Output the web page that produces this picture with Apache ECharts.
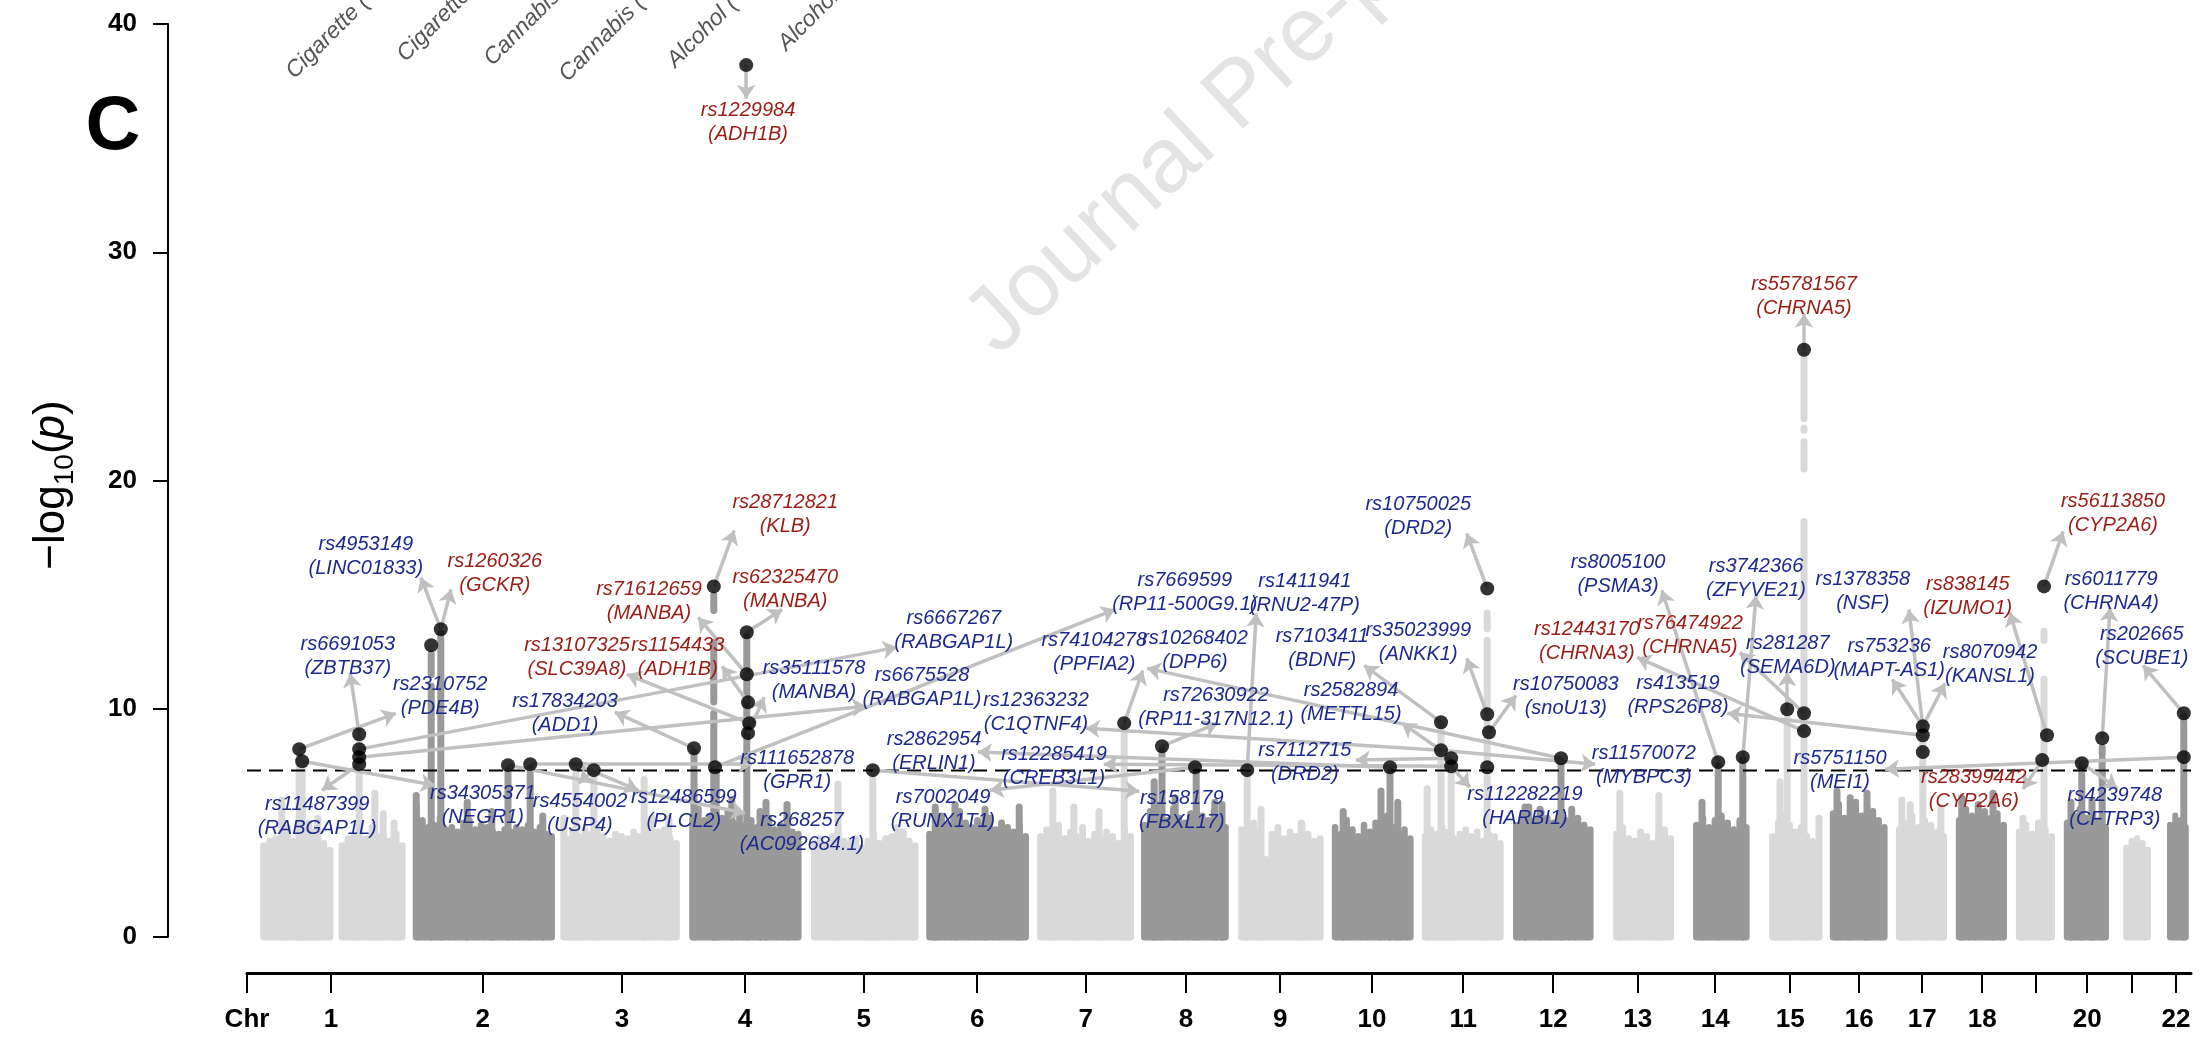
<!DOCTYPE html>
<html>
<head>
<meta charset="utf-8">
<script src="https://cdn.jsdelivr.net/npm/echarts@6/dist/echarts.min.js"></script>
<style>
  html, body { margin: 0; background: #fff; }
  #chart { width: 2200px; height: 1038px; }
</style>
</head>
<body>
<div id="chart"></div>
<script>
// Manhattan plot, panel C. x is a cumulative genome position (roughly Mb),
// y is -log10(p). Background mass per chromosome is a binned envelope,
// lead SNPs are black dots with grey leader arrows to their labels.

const chrNames = ['Chr', '1', '2', '3', '4', '5', '6', '7', '8', '9', '10', '11',
  '12', '13', '14', '15', '16', '17', '18', '19', '20', '21', '22']
const chrTicks = [0, 140, 393, 625, 830, 1028, 1217, 1398, 1565, 1722, 1875, 2027,
  2177, 2318, 2447, 2572, 2687, 2792, 2892, 2982, 3067, 3142, 3215]
const unlabeledChr = ['19', '21']

const chrSpan = [[22, 263], [277, 512], [527, 720], [737, 923], [940, 1118], [1132, 1302],
  [1317, 1477], [1490, 1635], [1652, 1793], [1808, 1943], [1958, 2093], [2110, 2243],
  [2277, 2377], [2410, 2503], [2537, 2623], [2638, 2733], [2748, 2832], [2848, 2932],
  [2948, 3012], [3028, 3102], [3127, 3172], [3200, 3235]]

// envelope of the dense background points, evenly binned along each chromosome (0 = no SNPs)
const massTop = [
  [4.0, 4.2, 4.3, 4.4, 4.8, 4.2, 4.5, 4.2, 4.6, 4.7, 4.1, 3.8, 0, 4.0, 4.3, 4.4, 4.2, 4.3, 4.8, 4.4, 4.3, 4.2, 4.5, 4.0],
  [5.7, 5.1, 4.8, 4.9, 5.2, 4.7, 4.8, 4.6, 5.0, 5.1, 4.7, 4.9, 4.8, 4.6, 4.5, 4.7, 4.6, 4.8, 4.7, 4.9, 4.6, 4.8, 4.5, 4.4],
  [4.3, 4.6, 4.4, 4.7, 4.5, 4.8, 4.4, 4.2, 4.5, 4.4, 4.3, 4.6, 4.4, 4.9, 5.2, 4.6, 4.7, 4.3, 4.1],
  [5.2, 5.6, 5.1, 5.3, 4.9, 5.2, 5.5, 5.0, 5.3, 4.9, 5.1, 4.8, 5.0, 5.2, 4.7, 4.9, 4.8, 4.6, 4.5],
  [4.1, 4.3, 4.0, 4.4, 4.7, 4.2, 4.1, 4.3, 3.9, 4.2, 4.5, 4.1, 4.3, 4.4, 4.8, 4.6, 4.2, 4.0],
  [4.5, 5.1, 5.3, 4.9, 5.2, 5.5, 5.0, 4.8, 5.1, 4.9, 5.2, 4.7, 5.0, 4.8, 4.6, 4.9, 4.4],
  [4.4, 4.7, 4.5, 4.9, 4.3, 4.6, 4.4, 4.8, 4.2, 4.5, 4.3, 4.6, 4.4, 4.1, 4.7, 4.4],
  [4.9, 5.5, 5.8, 5.3, 5.1, 5.6, 5.2, 5.0, 5.4, 5.7, 5.3, 5.1, 5.5, 5.2, 4.8],
  [4.7, 4.4, 5.0, 4.6, 3.4, 4.5, 4.8, 4.3, 4.6, 4.4, 4.9, 4.5, 4.2, 4.3],
  [4.8, 4.5, 5.1, 4.7, 4.4, 4.9, 4.6, 5.0, 5.2, 5.3, 4.8, 4.5, 4.7, 4.3],
  [4.4, 4.7, 4.5, 4.8, 4.6, 4.3, 4.5, 4.7, 4.4, 4.6, 4.2, 4.5, 4.4, 4.1],
  [4.9, 5.3, 5.7, 5.1, 5.5, 5.2, 5.0, 5.4, 5.1, 5.6, 5.2, 4.9, 4.7],
  [4.5, 4.8, 4.3, 4.2, 4.6, 4.4, 4.1, 4.5, 4.7, 4.3],
  [4.9, 5.2, 4.8, 5.1, 5.3, 5.0, 4.7, 5.1, 4.8],
  [4.4, 5.0, 5.3, 4.9, 4.6, 4.8, 4.4, 4.2, 4.0],
  [5.4, 5.8, 5.2, 5.6, 5.9, 5.3, 5.7, 5.5, 5.1, 4.8],
  [4.7, 5.0, 5.3, 4.8, 5.1, 4.9, 4.6, 4.4],
  [5.1, 5.6, 5.3, 5.8, 5.5, 5.2, 5.4, 4.9],
  [4.6, 4.9, 4.5, 5.0, 4.7, 4.4],
  [5.0, 5.3, 5.6, 5.2, 5.4, 5.1, 4.8],
  [3.9, 4.2, 4.3, 4.1, 3.8],
  [4.9, 5.3, 5.1, 4.8]
]

// stacked point columns rising above the mass: [position, from, to]
const stacks = [
  [58, 0, 6.0], [87, 0, 8.0], [92, 0, 7.5], [103, 0, 5.0], [118, 0, 5.2], [187, 0, 8.7],
  [213, 0, 6.3], [227, 0, 5.4], [245, 0, 5.0],
  [282, 0, 6.2], [307, 0, 11.0], [307, 11.5, 12.4], [323, 0, 13.3], [367, 0, 5.9], [408, 0, 5.5],
  [435, 0, 7.3], [472, 0, 7.4], [493, 0, 5.3],
  [528, 0, 5.2], [548, 0, 7.4], [578, 0, 7.1], [662, 0, 6.9], [703, 0, 5.2],
  [745, 0, 8.1], [778, 0, 9.8], [778, 10.3, 12.9], [778, 14.3, 15.0], [782, 0, 7.3], [808, 0, 6.0],
  [833, 0, 13.2], [855, 0, 5.5], [865, 0, 5.9], [900, 0, 5.8],
  [985, 0, 6.7], [1043, 0, 7.2], [1147, 0, 5.7], [1180, 0, 5.8], [1230, 0, 5.6], [1287, 0, 5.7],
  [1343, 0, 6.4], [1378, 0, 5.7], [1420, 0, 5.5], [1462, 0, 9.2],
  [1512, 0, 6.8], [1525, 0, 8.2], [1547, 0, 6.1], [1582, 0, 7.3], [1613, 0, 5.9], [1625, 0, 5.8],
  [1667, 0, 7.2], [1690, 0, 5.6], [1757, 0, 5.0],
  [1827, 0, 5.5], [1890, 0, 6.4], [1905, 0, 7.3], [1918, 0, 5.9],
  [1967, 0, 6.5], [1990, 0, 9.3], [2007, 0, 7.7], [2067, 0, 13.0], [2067, 13.5, 14.2],
  [2130, 0, 5.7], [2155, 0, 5.6], [2190, 0, 7.7],
  [2288, 0, 6.3], [2353, 0, 6.2],
  [2425, 0, 5.9], [2452, 0, 7.5], [2493, 0, 7.8],
  [2555, 0, 6.8], [2567, 0, 9.9], [2595, 0, 18.2], [2595, 20.5, 21.7], [2595, 22.2, 22.3], [2595, 22.7, 25.5],
  [2620, 0, 5.2],
  [2650, 0, 6.4], [2672, 0, 6.1], [2700, 0, 6.3],
  [2758, 0, 6.0], [2772, 0, 5.8], [2793, 0, 9.1], [2823, 0, 5.7],
  [2858, 0, 6.1], [2910, 0, 6.3],
  [2960, 0, 5.2], [2995, 0, 11.3], [2995, 13.0, 13.4],
  [3040, 0, 5.9], [3058, 0, 7.5], [3075, 0, 6.0], [3092, 0, 7.8], [3092, 8.0, 8.3],
  [3228, 0, 9.7]
]

// genome-wide significant lead SNPs: [position, -log10 p]
const hits = [
  [87, 8.23], [92, 7.70], [187, 8.88], [187, 8.23], [187, 7.88], [187, 7.57],
  [323, 13.48], [307, 12.78], [435, 7.53], [472, 7.57], [548, 7.57], [578, 7.31],
  [745, 8.27], [780, 7.44], [778, 15.36], [833, 13.35], [833, 11.51], [835, 10.28],
  [837, 9.37], [835, 8.93], [832, 38.2], [1043, 7.31], [1462, 9.37], [1525, 8.36],
  [1580, 7.44], [1667, 7.31], [1905, 7.44], [1990, 9.41], [1990, 8.18], [2007, 7.83],
  [2007, 7.48], [2067, 9.76], [2070, 8.97], [2067, 7.44], [2067, 15.27], [2190, 7.83],
  [2452, 7.66], [2493, 7.88], [2567, 9.98], [2595, 9.80], [2595, 9.02], [2595, 25.73],
  [2793, 9.23], [2793, 8.84], [2793, 8.10], [2995, 15.36], [3000, 8.84], [2992, 7.75],
  [3092, 8.71], [3058, 7.61], [3228, 9.80], [3228, 7.88]
]

const sigLine = 7.3

// annotated SNPs: [rsid, nearest gene, highlighted (red)]
const snps = [
  ['rs1229984', 'ADH1B', 1], ['rs4953149', 'LINC01833', 0], ['rs1260326', 'GCKR', 1],
  ['rs6691053', 'ZBTB37', 0], ['rs2310752', 'PDE4B', 0], ['rs17834203', 'ADD1', 0],
  ['rs13107325', 'SLC39A8', 1], ['rs1154433', 'ADH1B', 1], ['rs71612659', 'MANBA', 1],
  ['rs28712821', 'KLB', 1], ['rs62325470', 'MANBA', 1], ['rs35111578', 'MANBA', 0],
  ['rs6667267', 'RABGAP1L', 0], ['rs6675528', 'RABGAP1L', 0], ['rs111652878', 'GPR1', 0],
  ['rs268257', 'AC092684.1', 0], ['rs12486599', 'PLCL2', 0], ['rs4554002', 'USP4', 0],
  ['rs34305371', 'NEGR1', 0], ['rs11487399', 'RABGAP1L', 0], ['rs7669599', 'RP11-500G9.1', 0],
  ['rs1411941', 'RNU2-47P', 0], ['rs74104278', 'PPFIA2', 0], ['rs10268402', 'DPP6', 0],
  ['rs72630922', 'RP11-317N12.1', 0], ['rs12363232', 'C1QTNF4', 0], ['rs2862954', 'ERLIN1', 0],
  ['rs12285419', 'CREB3L1', 0], ['rs7002049', 'RUNX1T1', 0], ['rs158179', 'FBXL17', 0],
  ['rs7112715', 'DRD2', 0], ['rs7103411', 'BDNF', 0], ['rs35023999', 'ANKK1', 0],
  ['rs2582894', 'METTL15', 0], ['rs11570072', 'MYBPC3', 0], ['rs10750025', 'DRD2', 0],
  ['rs10750083', 'snoU13', 0], ['rs112282219', 'HARBI1', 0], ['rs8005100', 'PSMA3', 0],
  ['rs3742366', 'ZFYVE21', 0], ['rs12443170', 'CHRNA3', 1], ['rs76474922', 'CHRNA5', 1],
  ['rs281287', 'SEMA6D', 0], ['rs413519', 'RPS26P8', 0], ['rs1378358', 'NSF', 0],
  ['rs753236', 'MAPT-AS1', 0], ['rs8070942', 'KANSL1', 0], ['rs838145', 'IZUMO1', 1],
  ['rs56113850', 'CYP2A6', 1], ['rs6011779', 'CHRNA4', 0], ['rs202665', 'SCUBE1', 0],
  ['rs28399442', 'CYP2A6', 1], ['rs5751150', 'MEI1', 0], ['rs4239748', 'CFTRP3', 0],
  ['rs55781567', 'CHRNA5', 1]
]

// where each label block sits, in data space (layout, kept apart from the SNP table)
const labelAt = [
  [835, 35.69], [198, 16.67], [413, 15.93], [168, 12.30], [322, 10.55], [530, 9.80],
  [550, 12.25], [718, 12.25], [670, 14.70], [897, 18.51], [897, 15.23], [945, 11.25],
  [1178, 13.44], [1125, 10.94], [917, 7.31], [925, 4.60], [728, 5.60], [555, 5.43],
  [393, 5.78], [117, 5.30], [1563, 15.10], [1763, 15.05], [1412, 12.47], [1580, 12.56],
  [1615, 10.07], [1315, 9.85], [1145, 8.14], [1345, 7.48], [1160, 5.60], [1558, 5.56],
  [1763, 7.66], [1792, 12.65], [1952, 12.91], [1840, 10.28], [2328, 7.53], [1952, 18.42],
  [2198, 10.55], [2130, 5.73], [2285, 15.89], [2515, 15.71], [2233, 12.95], [2405, 13.22],
  [2568, 12.34], [2385, 10.59], [2693, 15.14], [2737, 12.21], [2905, 11.95], [2868, 14.92],
  [3110, 18.56], [3107, 15.14], [3158, 12.74], [2878, 6.48], [2655, 7.31], [3113, 5.69],
  [2595, 28.05]
]

// leader arrows: [from x, from y, to x, to y]
const arrows = [
  [832, 38.2, 832, 36.72], [323, 13.48, 290, 15.75], [323, 13.48, 340, 15.23],
  [187, 8.88, 172, 11.55], [87, 8.23, 248, 9.80], [745, 8.27, 613, 9.85],
  [837, 9.37, 633, 11.51], [835, 10.28, 792, 11.86], [833, 11.51, 752, 14.00],
  [778, 15.36, 812, 17.81], [833, 13.35, 892, 14.35], [835, 8.93, 862, 10.50],
  [187, 8.23, 1083, 12.69], [187, 7.88, 1032, 10.11], [472, 7.57, 842, 7.57],
  [435, 7.53, 830, 5.43], [548, 7.57, 652, 6.43], [578, 7.31, 553, 6.74],
  [92, 7.70, 313, 6.65], [187, 7.57, 125, 6.43], [780, 7.44, 1447, 14.35],
  [1667, 7.31, 1682, 14.18], [2190, 7.83, 1500, 11.77], [1462, 9.37, 1493, 11.68],
  [1525, 8.36, 1618, 9.37], [1990, 8.18, 1398, 9.15], [1905, 7.44, 1218, 8.10],
  [2007, 7.48, 1428, 7.57], [1580, 7.44, 1238, 6.43], [1043, 7.31, 1487, 6.39],
  [2007, 7.83, 1848, 7.75], [1990, 9.41, 1862, 11.90], [2067, 9.76, 2033, 12.21],
  [1990, 8.18, 1925, 9.37], [1990, 8.18, 2247, 7.57], [2067, 15.27, 2033, 17.68],
  [2070, 8.97, 2115, 10.59], [2007, 7.48, 2038, 6.56], [2452, 7.66, 2358, 15.19],
  [2493, 7.88, 2515, 14.97], [2595, 9.02, 2317, 12.25], [2595, 9.80, 2488, 12.47],
  [2567, 9.98, 2567, 11.60], [2793, 8.84, 2467, 9.80], [2793, 9.23, 2770, 14.35],
  [2793, 9.23, 2742, 11.29], [2793, 9.23, 2830, 11.12], [3000, 8.84, 2938, 14.22],
  [2995, 15.36, 3027, 17.77], [3092, 8.71, 3105, 14.44], [3228, 9.80, 3160, 11.90],
  [2992, 7.75, 2960, 6.48], [3228, 7.88, 2730, 7.35], [3058, 7.61, 3117, 6.52],
  [2595, 25.73, 2595, 27.31]
]

const traits = ['Cigarette (', 'Cigarette', 'Cannabis', 'Cannabis (', 'Alcohol (', 'Alcohol']

const SANS = '"Liberation Sans", Arial, Helvetica, sans-serif'
const LIGHT = '#d9d9d9'
const DARK = '#999999'
const RED = '#9a1c14'
const BLUE = '#1b2a8e'
const ARROW = '#c0c0c0'

const bandColor = i => (i % 2 === 0 ? LIGHT : DARK)

function chrIndexAt(x) {
  let best = 0
  let dist = Infinity
  chrSpan.forEach(([s, e], i) => {
    const d = x < s ? s - x : x > e ? x - e : 0
    if (d < dist) { dist = d; best = i }
  })
  return best
}

function renderMass(params, api) {
  const i = params.dataIndex
  const [s, e] = chrSpan[i]
  const tops = massTop[i]
  const step = (e - s) / tops.length
  const children = []
  tops.forEach((h, k) => {
    if (!h) return
    const a = api.coord([s + k * step, h])
    const b = api.coord([s + (k + 1) * step, 0])
    const first = k === 0 || !tops[k - 1]
    const last = k === tops.length - 1 || !tops[k + 1]
    children.push({
      type: 'rect',
      shape: {x: a[0], y: a[1] - 3.5, width: b[0] - a[0] + 0.8, height: b[1] - a[1] + 7,
        r: [3.5, 3.5, last ? 3.5 : 0, first ? 3.5 : 0]},
      style: {fill: bandColor(i)},
    })
  })
  return {type: 'group', children}
}

function renderStack(params, api) {
  const x = api.value(0)
  const top = api.coord([x, api.value(2)])
  const bottom = api.coord([x, api.value(1)])
  return {
    type: 'rect',
    shape: {x: top[0] - 3.5, y: top[1] - 3.5, width: 7, height: bottom[1] - top[1] + 7, r: 3.5},
    style: {fill: bandColor(chrIndexAt(x))},
  }
}

function renderLabel(params, api) {
  const i = params.dataIndex
  const p = api.coord(labelAt[i])
  const [rs, gene, red] = snps[i]
  return {
    type: 'text', x: p[0], y: p[1],
    style: {
      text: rs + '\n(' + gene + ')', fill: red ? RED : BLUE,
      font: 'italic 20px ' + SANS, lineHeight: 24,
      align: 'center', verticalAlign: 'middle', textAlign: 'center', textVerticalAlign: 'middle',
    },
  }
}

// y title with a real subscript: lay the pieces out along a rotated group
const measure = document.createElement('canvas').getContext('2d')
function textWidth(t, font) { measure.font = font; return measure.measureText(t).width }
const titleParts = [
  ['\u2212log', '44px ' + SANS, 0], ['10', '28px ' + SANS, 13],
  ['(', '44px ' + SANS, 0], ['p', 'italic 44px ' + SANS, 0], [')', '44px ' + SANS, 0],
]
const titleWidth = titleParts.reduce((w, p) => w + textWidth(p[0], p[1]), 0)
let cursor = -titleWidth / 2
const titleChildren = titleParts.map(([t, font, dy]) => {
  const el = {type: 'text', x: cursor, y: dy,
    style: {text: t, font, fill: '#000', align: 'left', verticalAlign: 'middle',
      textAlign: 'left', textVerticalAlign: 'middle'}}
  cursor += textWidth(t, font)
  return el
})

const traitAnchors = [[298, 83], [409, 66], [496, 70], [571, 86], [679, 72], [790, 55]]

const graphic = [
  {type: 'text', x: 1012, y: 372, rotation: 0.75, z: 0,
    style: {text: 'Journal Pre-proof', font: '92px ' + SANS, fill: '#e4e4e4',
      align: 'left', verticalAlign: 'bottom', textAlign: 'left', textVerticalAlign: 'bottom'}},
  {type: 'text', x: 113, y: 128,
    style: {text: 'C', font: 'bold 76px ' + SANS, fill: '#000',
      align: 'center', verticalAlign: 'middle', textAlign: 'center', textVerticalAlign: 'middle'}},
  {type: 'group', x: 52, y: 485, rotation: Math.PI / 2, children: titleChildren},
  ...traits.map((t, i) => ({
    type: 'text', x: traitAnchors[i][0], y: traitAnchors[i][1], rotation: Math.PI / 4,
    style: {text: t, font: 'italic 23px ' + SANS, fill: '#555',
      align: 'left', verticalAlign: 'bottom', textAlign: 'left', textVerticalAlign: 'bottom'},
  })),
]

const chart = echarts.init(document.getElementById('chart'), null, {renderer: 'canvas'})

chart.setOption({
  animation: false,
  backgroundColor: '#fff',
  grid: {left: 247, right: 9, top: 24, bottom: 101, containLabel: false, outerBoundsMode: 'none'},
  xAxis: {
    type: 'value', min: 0, max: 3240, offset: 36,
    axisLine: {show: true, onZero: false, lineStyle: {color: '#000', width: 3}},
    axisTick: {show: true, customValues: chrTicks, length: 20, lineStyle: {color: '#000', width: 2}},
    axisLabel: {
      customValues: chrTicks.filter((v, i) => !unlabeledChr.includes(chrNames[i])),
      formatter: v => chrNames[chrTicks.indexOf(v)],
      margin: 34, color: '#000', fontFamily: SANS, fontWeight: 'bold', fontSize: 26,
    },
    splitLine: {show: false},
  },
  yAxis: {
    type: 'value', min: 0, max: 40, interval: 10, offset: 79,
    axisLine: {show: true, onZero: false, lineStyle: {color: '#000', width: 2}},
    axisTick: {show: true, length: 15, lineStyle: {color: '#000', width: 2}},
    axisLabel: {margin: 31, color: '#000', fontFamily: SANS, fontWeight: 'bold', fontSize: 26},
    splitLine: {show: false},
  },
  graphic,
  series: [
    {type: 'custom', name: 'mass', data: chrSpan.map((s, i) => [i]), renderItem: renderMass, z: 1, silent: true},
    {type: 'custom', name: 'stacks', data: stacks, encode: {x: 0, y: 2}, renderItem: renderStack, z: 1, silent: true},
    {type: 'line', name: 'threshold', data: [[0, sigLine], [3240, sigLine]], symbol: 'none', z: 2, silent: true,
      lineStyle: {color: '#000', width: 2, type: [14, 8]}},
    {type: 'lines', name: 'leaders', coordinateSystem: 'cartesian2d', z: 3, silent: true,
      symbol: ['none', 'arrow'], symbolSize: 14,
      lineStyle: {color: ARROW, width: 3.5, opacity: 1},
      data: arrows.map(a => ({coords: [[a[0], a[1]], [a[2], a[3]]]}))},
    {type: 'scatter', name: 'hits', data: hits, symbolSize: 14, itemStyle: {color: '#000'}, z: 4, silent: true},
    {type: 'custom', name: 'labels', data: labelAt, renderItem: renderLabel, z: 5, silent: true},
  ],
})
</script>
</body>
</html>
